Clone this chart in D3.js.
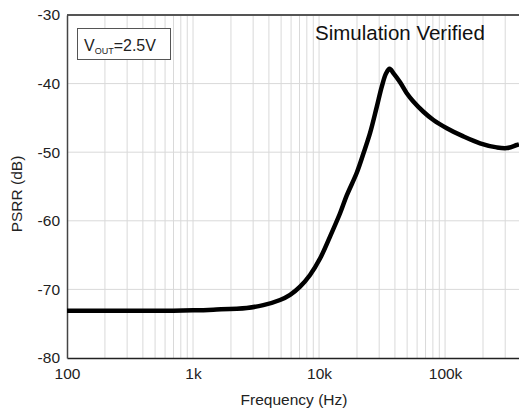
<!DOCTYPE html>
<html><head><meta charset="utf-8">
<script src="https://cdn.jsdelivr.net/npm/d3@7"></script>
<style>body{margin:0;background:#fff}svg{display:block}text{font-family:"Liberation Sans",Arial,sans-serif}</style>
</head><body>
<svg id="c" width="519" height="408"></svg>
<script>
const freq = [100, 300, 700, 1000, 1450, 2670, 3610, 4900, 5890, 7070, 8480, 10180, 12220, 14680, 16590, 19920, 22490, 25410, 28710, 31460, 34050, 36300, 39000, 43950, 49660, 56000, 67300, 80770, 103200, 139700, 189500, 257200, 309000, 370700, 386000];
const psrr = [-73.1, -73.1, -73.1, -73.05, -72.95, -72.7, -72.3, -71.55, -70.8, -69.6, -67.9, -65.5, -62.3, -58.9, -56.3, -53.0, -50.2, -47.2, -43.4, -40.45, -38.5, -37.85, -38.5, -39.8, -41.4, -42.6, -44.1, -45.3, -46.5, -47.7, -48.7, -49.3, -49.4, -48.95, -48.85];
const xTickVals = [100, 1000, 10000, 100000];
const xTickLabels = ["100", "1k", "10k", "100k"];
const yTickVals = [-80, -70, -60, -50, -40, -30];

const svg = d3.select("#c");
const L = 67, R = 519, T = 15, B = 358;
const x = d3.scaleLog().domain([100, 386000]).range([L, R]);
const y = d3.scaleLinear().domain([-80, -30]).range([B, T]);
const FONT = '"Liberation Sans",Arial,sans-serif';

// minor & major vertical grid
const vg = [];
for (let d = 100; d < 1e6; d *= 10) for (let k = 1; k < 10; k++) { const v = d * k; if (v > 100 && v <= 386000) vg.push(v); }
svg.append("g").selectAll("line").data(vg).join("line")
  .attr("x1", d => x(d)).attr("x2", d => x(d)).attr("y1", T).attr("y2", B)
  .attr("stroke", "#d9d9d9").attr("stroke-width", 1);
svg.append("g").selectAll("line").data(yTickVals.slice(1, -1)).join("line")
  .attr("x1", L).attr("x2", R).attr("y1", d => y(d)).attr("y2", d => y(d))
  .attr("stroke", "#d9d9d9").attr("stroke-width", 1);

// top frame
svg.append("line").attr("x1", L).attr("x2", R).attr("y1", T).attr("y2", T).attr("stroke", "#555").attr("stroke-width", 2);

// axes
const xa = svg.append("g").attr("transform", `translate(0,${B})`)
  .call(d3.axisBottom(x).tickValues(xTickVals).tickFormat((d, i) => xTickLabels[i]).tickSize(0).tickPadding(10));
xa.select(".domain").attr("stroke", "#222").attr("stroke-width", 1.5);
xa.selectAll("text").attr("font-size", 15.5).attr("fill", "#222").style("font-family", FONT);
const ya = svg.append("g").attr("transform", `translate(${L},0)`)
  .call(d3.axisLeft(y).tickValues(yTickVals).tickSize(0).tickPadding(7).tickFormat(d => String(d)));
ya.select(".domain").attr("stroke", "#444").attr("stroke-width", 1.5);
ya.selectAll("text").attr("font-size", 15.5).attr("fill", "#222").style("font-family", FONT);

// curve
const pts = freq.map((f, i) => [f, psrr[i]]);
svg.append("path").datum(pts)
  .attr("d", d3.line().x(d => x(d[0])).y(d => y(d[1])).curve(d3.curveCatmullRom.alpha(0.5)))
  .attr("fill", "none").attr("stroke", "#000").attr("stroke-width", 4.5).attr("stroke-linejoin", "round");

// axis titles
svg.append("text").attr("x", 294).attr("y", 404.5).attr("text-anchor", "middle").attr("font-size", 15.5).attr("fill", "#222").text("Frequency (Hz)");
svg.append("text").attr("transform", "translate(22,194) rotate(-90)").attr("text-anchor", "middle").attr("font-size", 15.5).attr("fill", "#222").text("PSRR (dB)");

// legend box
svg.append("rect").attr("x", 77.5).attr("y", 28.5).attr("width", 93).attr("height", 31).attr("fill", "#fff").attr("stroke", "#555").attr("stroke-width", 1);
const lt = svg.append("text").attr("x", 84).attr("y", 51).attr("font-size", 16).attr("fill", "#222");
lt.append("tspan").text("V");
lt.append("tspan").attr("font-size", 9).attr("dy", 3).text("OUT");
lt.append("tspan").attr("dy", -3).text("=2.5V");

svg.append("text").attr("x", 315).attr("y", 40).attr("font-size", 20.5).attr("fill", "#111").text("Simulation Verified");
</script>
</body></html>
